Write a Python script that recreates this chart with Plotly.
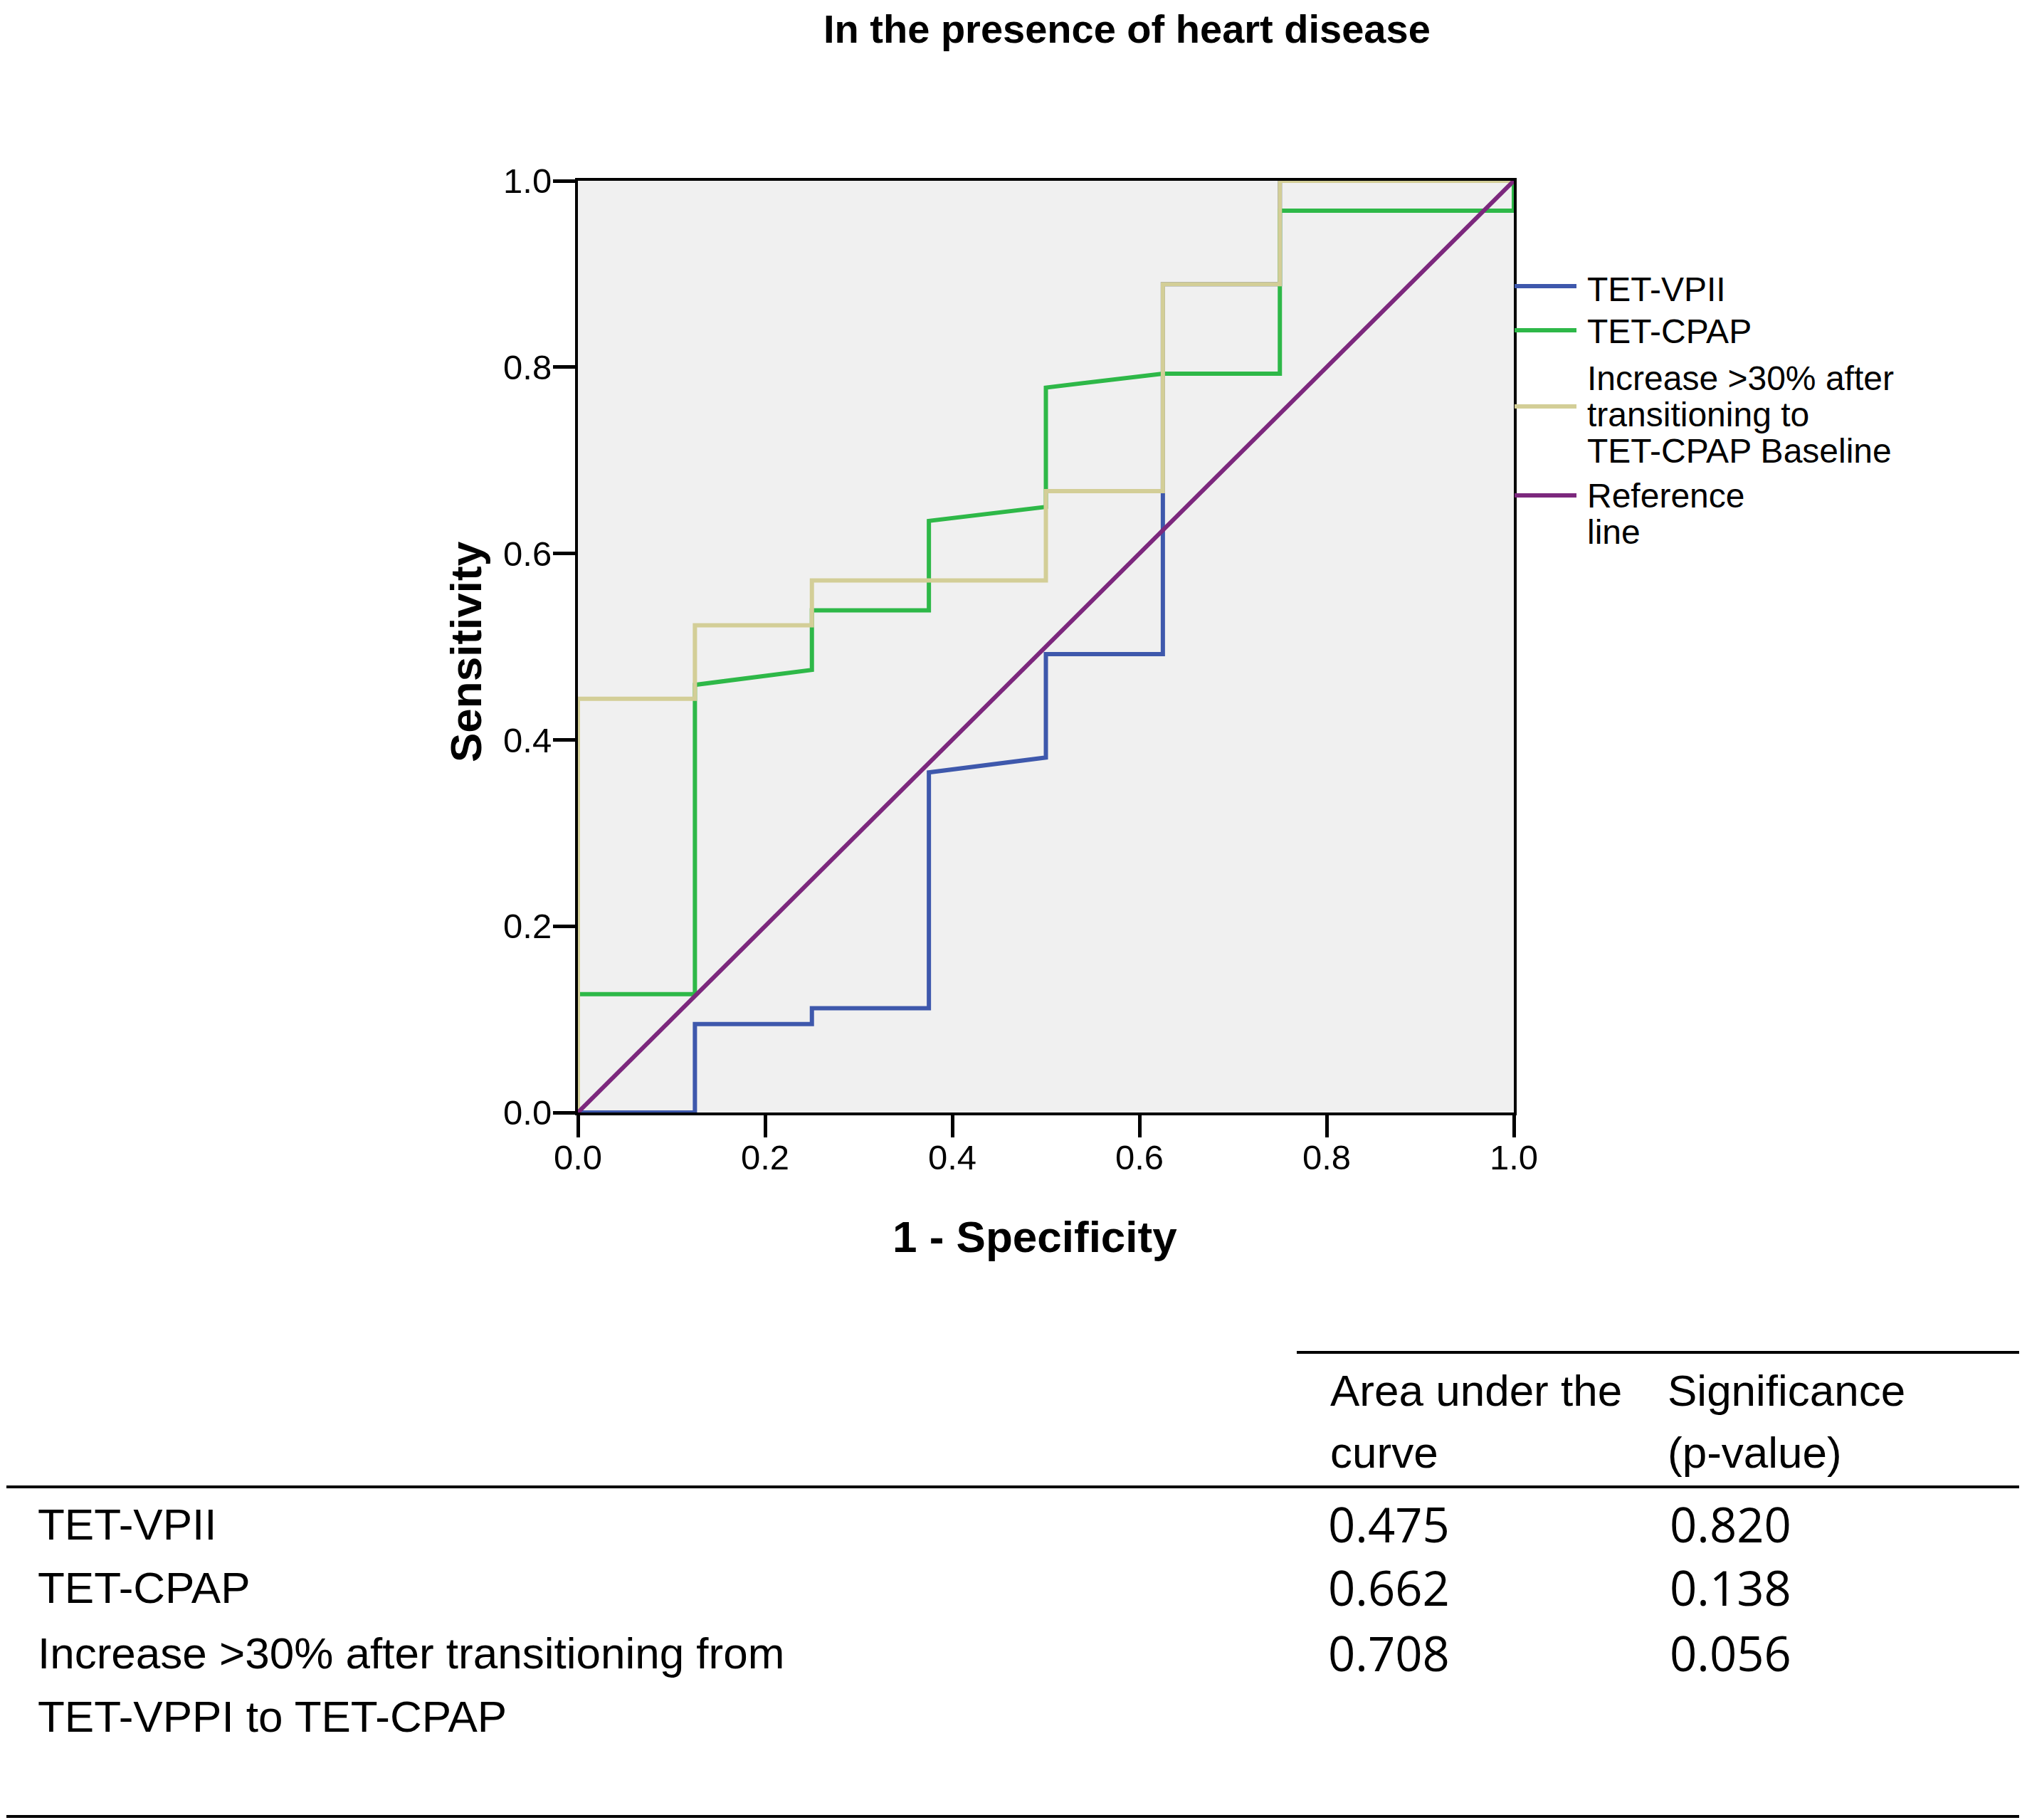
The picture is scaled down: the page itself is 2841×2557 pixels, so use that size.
import plotly.graph_objects as go

# ROC curves (1 - specificity, sensitivity)
vpii_x = [0, 0.125, 0.125, 0.25, 0.25, 0.375, 0.375, 0.5, 0.5, 0.625, 0.625, 0.625, 0.75, 0.75, 1.0]
vpii_y = [0, 0, 0.095, 0.095, 0.112, 0.112, 0.365, 0.381, 0.492, 0.492, 0.664, 0.889, 0.889, 1.0, 1.0]

cpap_x = [0, 0, 0.125, 0.125, 0.25, 0.25, 0.375, 0.375, 0.5, 0.5, 0.625, 0.75, 0.75, 1.0, 1.0]
cpap_y = [0, 0.127, 0.127, 0.459, 0.475, 0.539, 0.539, 0.635, 0.650, 0.778, 0.793, 0.793, 0.968, 0.968, 1.0]

incr_x = [0, 0, 0.125, 0.125, 0.25, 0.25, 0.5, 0.5, 0.625, 0.625, 0.75, 0.75, 1.0]
incr_y = [0, 0.444, 0.444, 0.523, 0.523, 0.571, 0.571, 0.667, 0.667, 0.889, 0.889, 1.0, 1.0]

ref_x = [0, 1]
ref_y = [0, 1]

legend_labels = [
    ["TET-VPII"],
    ["TET-CPAP"],
    ["Increase >30% after", "transitioning to", "TET-CPAP Baseline"],
    ["Reference", "line"],
]

table_header = [["Area under the", "curve"], ["Significance", "(p-value)"]]
table_rows = [["TET-VPII"], ["TET-CPAP"], ["Increase >30% after transitioning from", "TET-VPPI to TET-CPAP"]]
auc = ["0.475", "0.662", "0.708"]
pvalue = ["0.820", "0.138", "0.056"]

colors = ["#3E58AC", "#2EB848", "#D3CE97", "#7C287D"]

W, H = 2841, 2557
L, R, T, B = 812, 2127, 254, 1563
ARIAL = "Liberation Sans, Arial, sans-serif"


def px(x):
    return (x - L) / (R - L)


def py(y):
    return (B - y) / (B - T)


fig = go.Figure()
for xs, ys, c in [(vpii_x, vpii_y, colors[0]), (cpap_x, cpap_y, colors[1]),
                  (incr_x, incr_y, colors[2]), (ref_x, ref_y, colors[3])]:
    fig.add_trace(go.Scatter(x=xs, y=ys, mode="lines", showlegend=False,
                             line=dict(color=c, width=6), hoverinfo="skip"))

axis = dict(range=[0, 1], dtick=0.2, tickformat=".1f", showgrid=False, zeroline=False,
            showline=True, mirror=True, linecolor="black", linewidth=4,
            ticks="outside", ticklen=31, tickwidth=5, tickcolor="black",
            tickfont=dict(family=ARIAL, size=49, color="black"))

fig.update_layout(
    width=W, height=H, autosize=False,
    margin=dict(l=L, r=W - R, t=T, b=H - B, pad=0),
    plot_bgcolor="#F0F0F0", paper_bgcolor="white",
    xaxis=dict(axis, ticklabelstandoff=-14),
    yaxis=dict(axis, ticklabelstandoff=-8),
)

ann = []
shapes = []

# title and axis titles
ann.append(dict(text="<b>In the presence of heart disease</b>", x=px(1583), y=py(40),
                font=dict(family=ARIAL, size=56, color="black")))
ann.append(dict(text="<b>1 - Specificity</b>", x=px(1454), y=py(1737),
                font=dict(family=ARIAL, size=62, color="black")))
ann.append(dict(text="<b>Sensitivity</b>", x=px(654), y=py(916), textangle=-90,
                font=dict(family=ARIAL, size=62, color="black")))

# legend drawn by hand so the line spacing matches
sample_y = [402, 464, 571, 696]
text_y = [[406], [466], [531, 582, 633], [696, 747]]
for lines, c, sy, ty in zip(legend_labels, colors, sample_y, text_y):
    shapes.append(dict(type="line", xref="paper", yref="paper", x0=px(2128), x1=px(2215),
                       y0=py(sy), y1=py(sy), line=dict(color=c, width=6)))
    for t, y in zip(lines, ty):
        ann.append(dict(text=t, x=px(2228), y=py(y), xanchor="left",
                        font=dict(family=ARIAL, size=48, color="black")))

# table under the chart
for x0, y in [(1822, 1900), (9, 2089), (9, 2552)]:
    shapes.append(dict(type="line", xref="paper", yref="paper", x0=px(x0), x1=px(2837),
                       y0=py(y), y1=py(y), line=dict(color="black", width=4)))

for col_x, lines in zip([1867, 2341], table_header):
    for t, y in zip(lines, [1953, 2040]):
        ann.append(dict(text=t, x=px(col_x), y=py(y), xanchor="left",
                        font=dict(family=ARIAL, size=62, color="black")))

row_y = [[2141], [2230], [2322, 2411]]
for lines, ys, a, p in zip(table_rows, row_y, auc, pvalue):
    for t, y in zip(lines, ys):
        ann.append(dict(text=t, x=px(51), y=py(y), xanchor="left",
                        font=dict(family=ARIAL, size=62, color="black")))
    ann.append(dict(text=a, x=px(1864), y=py(ys[0]), xanchor="left",
                    font=dict(family="Open Sans, sans-serif", size=67, color="black")))
    ann.append(dict(text=p, x=px(2344), y=py(ys[0]), xanchor="left",
                    font=dict(family="Open Sans, sans-serif", size=67, color="black")))

for a in ann:
    a.update(xref="paper", yref="paper", showarrow=False, yanchor="middle")
    a.setdefault("xanchor", "center")

fig.update_layout(annotations=ann, shapes=shapes)

# drop the browser's default body margin so the figure sits at the page origin
fig.write_html("out.html", config={"displayModeBar": False},
               post_script="document.body.style.margin='0px';")
